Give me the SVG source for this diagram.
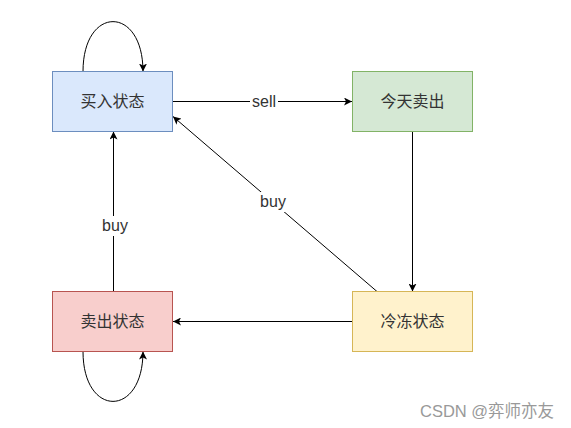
<svg xmlns="http://www.w3.org/2000/svg" width="571" height="428" viewBox="0 0 571 428">
<style>
.node text{font-family:"Liberation Sans","Noto Sans CJK SC",sans-serif;font-size:16px;fill:#333;text-anchor:middle;dominant-baseline:central}
.edge{fill:none;stroke:#000;stroke-width:1}
.lbl{font-family:"Liberation Sans","Noto Sans CJK SC",sans-serif;font-size:16px;fill:#333;text-anchor:middle;dominant-baseline:central}
.wm{font-family:"Liberation Sans","Noto Sans CJK SC",sans-serif;font-size:16.5px;fill:#999}
</style>
<defs>
<marker id="arr" viewBox="0 0 10 10" refX="10" refY="5" markerWidth="8" markerHeight="8" markerUnits="userSpaceOnUse" orient="auto">
<path d="M0,0 L10,5 L0,10 L2.5,5 Z" fill="#000"/>
</marker>
</defs>
<rect width="571" height="428" fill="#fff"/>
<g id="connectors">
<path class="edge" d="M83,71.5 C83,5 143,5 143,71.5" marker-end="url(#arr)"/>
<path class="edge" d="M83,351.5 C83,418 143,418 143,351.5" marker-end="url(#arr)"/>
<path class="edge" d="M173,101.5 L352,101.5" marker-end="url(#arr)"/>
<path class="edge" d="M412.5,131.5 L412.5,291.5" marker-end="url(#arr)"/>
<path class="edge" d="M352,321.5 L173,321.5" marker-end="url(#arr)"/>
<path class="edge" d="M113.5,291.5 L113.5,131.5" marker-end="url(#arr)"/>
<path class="edge" d="M377,291.5 L173,116.5" marker-end="url(#arr)"/>
<rect x="250" y="92" width="28" height="18" fill="#fff"/>
<text class="lbl" x="264" y="101.5">sell</text>
<rect x="100" y="216" width="30" height="20" fill="#fff"/>
<text class="lbl" x="115" y="225.5">buy</text>
<rect x="259" y="192" width="30" height="20" fill="#fff"/>
<text class="lbl" x="273" y="201.5">buy</text>
</g>
<g id="n1" class="node">
<rect x="52.5" y="71.5" width="120" height="60" fill="#dae8fc" stroke="#6c8ebf"/>
<text x="112.5" y="101.5">买入状态</text>
</g>
<g id="n2" class="node">
<rect x="352.5" y="71.5" width="120" height="60" fill="#d5e8d4" stroke="#82b366"/>
<text x="412.5" y="101.5">今天卖出</text>
</g>
<g id="n3" class="node">
<rect x="52.5" y="291.5" width="120" height="60" fill="#f8cecc" stroke="#b85450"/>
<text x="112.5" y="321.5">卖出状态</text>
</g>
<g id="n4" class="node">
<rect x="352.5" y="291.5" width="120" height="60" fill="#fff2cc" stroke="#d6b656"/>
<text x="412.5" y="321.5">冷冻状态</text>
</g>
<text class="wm" x="420" y="417">CSDN @弈师亦友</text>
</svg>
